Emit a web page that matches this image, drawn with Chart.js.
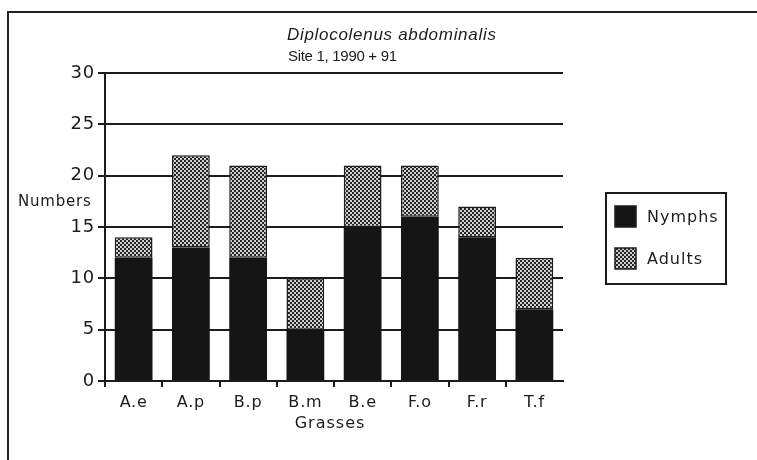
<!DOCTYPE html>
<html>
<head>
<meta charset="utf-8">
<script src="https://cdn.jsdelivr.net/npm/chart.js@4.4.0/dist/chart.umd.min.js"></script>
<style>
  body { margin: 0; background: #fff; }
  #frame { position: absolute; left: 7px; top: 11px; width: 800px; height: 500px; border: 2px solid #222; }
  #wrap { position: absolute; left: 0; top: 0; width: 757px; height: 460px; }
</style>
</head>
<body>
<div id="frame"></div>
<div id="wrap"><canvas id="myChart"></canvas></div>
<script>
// grasses along the x axis
const grasses = ["A.e", "A.p", "B.p", "B.m", "B.e", "F.o", "F.r", "T.f"];
// counts per grass, stacked
const nymphs = [12, 13, 12, 5, 15, 16, 14, 7];
const adults = [2, 9, 9, 5, 6, 5, 3, 5];
const seriesNames = ["Nymphs", "Adults"];
const yMax = 30;
const yStep = 5;

const ink = "#1c1c1c";
const labelFont = "'DejaVu Sans', sans-serif";

var canvas = document.getElementById("myChart");
var ctx = canvas.getContext("2d");

// little checker tile for the adults fill
function checker() {
  var c = document.createElement("canvas");
  c.width = 4;
  c.height = 4;
  var g = c.getContext("2d");
  g.fillStyle = "#cfcfcf";
  g.fillRect(0, 0, 4, 4);
  g.fillStyle = "#262626";
  g.fillRect(0, 0, 2, 2);
  g.fillRect(2, 2, 2, 2);
  return ctx.createPattern(c, "repeat");
}
const adultFill = checker();

// titles, axis names and the boxed legend
const extras = {
  id: "extras",
  beforeDraw(chart) {
    chart.ctx.letterSpacing = "0.8px";
  },
  afterDraw(chart) {
    const c = chart.ctx;
    const area = chart.chartArea;
    c.save();
    c.fillStyle = ink;
    c.textBaseline = "middle";

    c.letterSpacing = "0.7px";
    c.textAlign = "left";
    c.font = "italic 17px 'Liberation Sans', Arial, sans-serif";
    c.fillText("Diplocolenus abdominalis", 287, 35);
    c.letterSpacing = "-0.3px";
    c.font = "15px 'Liberation Sans', Arial, sans-serif";
    c.fillText("Site 1, 1990 + 91", 288, 57);

    c.letterSpacing = "0.8px";
    c.font = "15px " + labelFont;
    c.fillText("Numbers", 18, 202);

    c.letterSpacing = "1px";
    c.textAlign = "center";
    c.font = "16px " + labelFont;
    c.fillText("Grasses", (area.left + area.right) / 2 - 4, 424);

    // legend box
    c.lineWidth = 2;
    c.strokeStyle = ink;
    c.strokeRect(606, 193, 120, 91);
    c.textAlign = "left";
    chart.data.datasets.forEach(function (ds, i) {
      const y = 206 + i * 42;
      c.fillStyle = ds.backgroundColor;
      c.fillRect(615, y, 21, 21);
      c.lineWidth = 1.5;
      c.strokeRect(615, y, 21, 21);
      c.fillStyle = ink;
      c.fillText(ds.label, 647, y + 12);
    });
    c.restore();
  },
};

new Chart(ctx, {
  type: "bar",
  data: {
    labels: grasses,
    datasets: [
      {
        label: seriesNames[0],
        data: nymphs,
        backgroundColor: "#151515",
        borderWidth: 0,
        barPercentage: 0.66,
        categoryPercentage: 1,
      },
      {
        label: seriesNames[1],
        data: adults,
        backgroundColor: adultFill,
        borderColor: ink,
        borderWidth: 1.5,
        borderSkipped: false,
        barPercentage: 0.66,
        categoryPercentage: 1,
      },
    ],
  },
  options: {
    responsive: true,
    maintainAspectRatio: false,
    animation: false,
    events: [],
    layout: {
      padding: { left: 0, top: 73, right: 194, bottom: 0 },
    },
    plugins: {
      legend: { display: false },
      tooltip: { enabled: false },
    },
    scales: {
      x: {
        stacked: true,
        afterFit: function (scale) {
          scale.height = 79;
        },
        grid: {
          offset: true,
          drawOnChartArea: false,
          drawTicks: true,
          tickLength: 6,
          lineWidth: 2,
          // no tick mark at the far right end of the axis
          color: function (c) {
            return c.type === "tick" ? ink : "rgba(0,0,0,0)";
          },
        },
        border: { display: true, color: ink, width: 2 },
        ticks: {
          color: ink,
          padding: 6,
          maxRotation: 0,
          font: { family: labelFont, size: 16 },
        },
      },
      y: {
        stacked: true,
        min: 0,
        max: yMax,
        afterFit: function (scale) {
          scale.width = 105;
        },
        grid: {
          color: ink,
          lineWidth: 2,
          drawTicks: true,
          tickLength: 7,
        },
        border: { display: true, color: ink, width: 2 },
        ticks: {
          stepSize: yStep,
          color: ink,
          padding: 3,
          font: { family: labelFont, size: 18 },
        },
      },
    },
  },
  plugins: [extras],
});
</script>
</body>
</html>
